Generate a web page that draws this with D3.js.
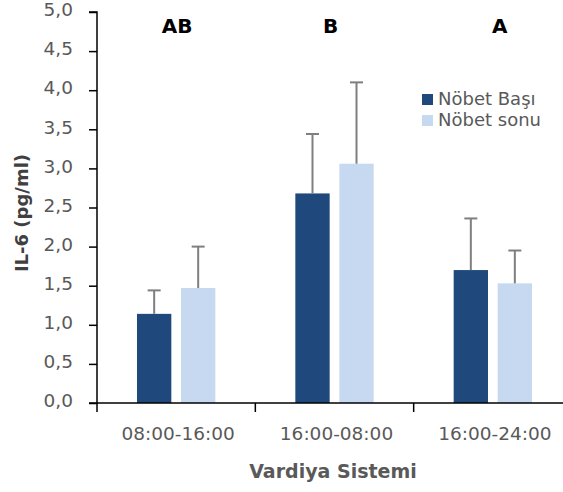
<!DOCTYPE html>
<html>
<head>
<meta charset="utf-8">
<script src="https://cdn.jsdelivr.net/npm/d3@7"></script>
<style>
  html, body { margin: 0; padding: 0; background: #fff; }
  svg { display: block; font-family: "DejaVu Sans", sans-serif; }
</style>
</head>
<body>
<svg id="chart" width="563" height="492"></svg>
<script>
const categories = ["08:00-16:00", "16:00-08:00", "16:00-24:00"];
const seriesNames = ["Nöbet Başı", "Nöbet sonu"];
const basVals = [1.14, 2.68, 1.70];
const basErr = [0.30, 0.76, 0.66];
const sonVals = [1.47, 3.06, 1.53];
const sonErr = [0.53, 1.04, 0.42];
const groupLetters = ["AB", "B", "A"];
const yTicks = [0, 0.5, 1, 1.5, 2, 2.5, 3, 3.5, 4, 4.5, 5];
const colors = ["#1f497d", "#c6d9f1"];

const svg = d3.select("#chart");
const x0 = 97, x1 = 572, yTop = 12, yBot = 403;
const letterShift = [1, -4, 7];

const x = d3.scaleBand().domain(categories).range([x0, x1]).padding(0);
const bw = x.bandwidth();
const xi = d3.scaleBand().domain(seriesNames).range([40, bw - 40]).paddingInner(0.22).paddingOuter(0);
const y = d3.scaleLinear().domain([0, 5]).range([yBot, yTop]);

const series = [
  { name: seriesNames[0], vals: basVals, errs: basErr, color: colors[0] },
  { name: seriesNames[1], vals: sonVals, errs: sonErr, color: colors[1] }
];

// bars
series.forEach(s => {
  const g = svg.append("g");
  categories.forEach((c, i) => {
    const bx = x(c) + xi(s.name);
    g.append("rect")
      .attr("x", bx).attr("width", xi.bandwidth())
      .attr("y", y(s.vals[i])).attr("height", y(0) - y(s.vals[i]))
      .attr("fill", s.color);
    const cx = bx + xi.bandwidth() / 2;
    const top = y(s.vals[i] + s.errs[i]);
    g.append("line").attr("x1", cx).attr("x2", cx)
      .attr("y1", y(s.vals[i])).attr("y2", top)
      .attr("stroke", "#7f7f7f").attr("stroke-width", 2);
    g.append("line").attr("x1", cx - 6.5).attr("x2", cx + 6.5)
      .attr("y1", top).attr("y2", top)
      .attr("stroke", "#7f7f7f").attr("stroke-width", 2);
  });
});

// y axis
const yAxis = d3.axisLeft(y).tickValues(yTicks).tickSize(8).tickPadding(16)
  .tickFormat(d => d3.format(".1f")(d).replace(".", ","));
const gy = svg.append("g").attr("transform", `translate(${x0},0)`).call(yAxis);
gy.select(".domain").attr("stroke", "#000").attr("stroke-width", 1.5).attr("d", `M-8,${yTop}H0V${yBot}H-8`);
gy.selectAll(".tick line").attr("stroke", "#000").attr("stroke-width", 1.5);
gy.selectAll(".tick text").attr("fill", "#595959").attr("font-size", 18.5).attr("font-family", "DejaVu Sans").attr("dy", "0.2em");

// x axis
const gx = svg.append("g").attr("transform", `translate(0,${yBot})`);
gx.append("line").attr("x1", x0).attr("x2", x1).attr("y1", 0).attr("y2", 0)
  .attr("stroke", "#000").attr("stroke-width", 1.5);
const bounds = categories.map(c => x(c));
gx.selectAll("line.tk").data(bounds).join("line").attr("class", "tk")
  .attr("x1", d => d).attr("x2", d => d).attr("y1", 0).attr("y2", 9)
  .attr("stroke", "#000").attr("stroke-width", 1.5);
gx.selectAll("text").data(categories).join("text")
  .attr("x", d => x(d) + bw / 2 + 2).attr("y", 37)
  .attr("text-anchor", "middle").attr("fill", "#595959").attr("font-size", 18.5)
  .text(d => d);

// group letters
svg.selectAll("text.letter").data(categories).join("text").attr("class", "letter")
  .attr("x", (d, i) => x(d) + bw / 2 + letterShift[i]).attr("y", 33)
  .attr("text-anchor", "middle").attr("font-weight", "bold").attr("font-size", 20)
  .attr("fill", "#000").text((d, i) => groupLetters[i]);

// axis titles
svg.append("text").attr("x", 333).attr("y", 478).attr("text-anchor", "middle")
  .attr("font-weight", "bold").attr("font-size", 19).attr("fill", "#595959").text("Vardiya Sistemi");
svg.append("text").attr("transform", "translate(28,213) rotate(-90)").attr("text-anchor", "middle")
  .attr("font-weight", "bold").attr("font-size", 18).attr("fill", "#404040").text("IL-6 (pg/ml)");

// legend
const lg = svg.append("g").attr("transform", "translate(422,94)");
series.forEach((s, i) => {
  lg.append("rect").attr("x", 0).attr("y", i * 21).attr("width", 11).attr("height", 11).attr("fill", s.color);
  lg.append("text").attr("x", 16).attr("y", i * 21 + 11).attr("font-size", 18)
    .attr("fill", "#595959").text(s.name);
});
</script>
</body>
</html>
